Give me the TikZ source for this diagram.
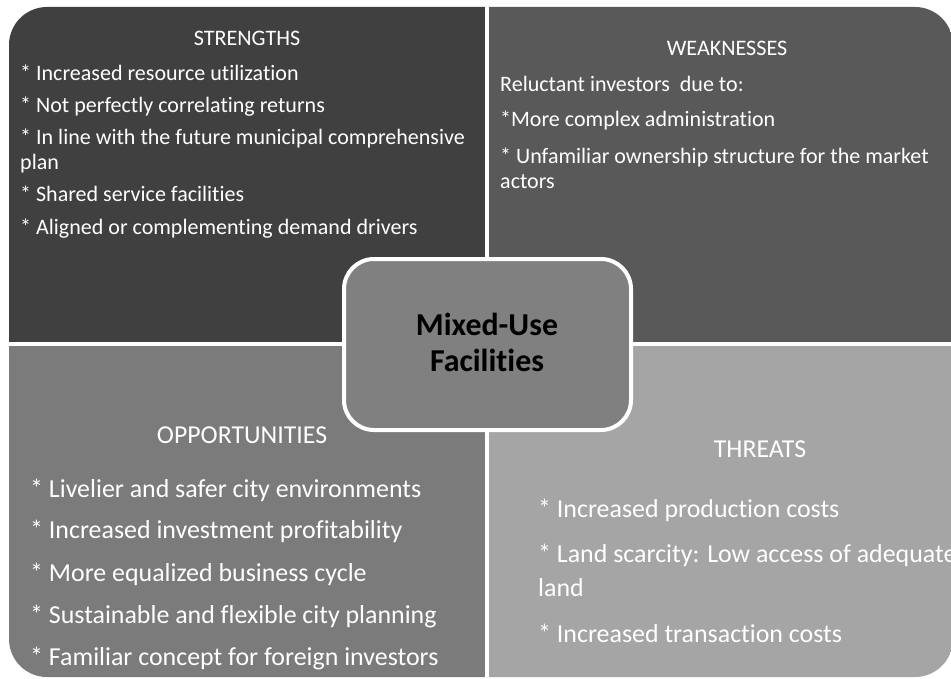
\documentclass[tikz,border=0pt]{standalone}
\usepackage{fontspec}
\setmainfont{Carlito}[Ligatures=CommonOff]
\definecolor{qtl}{HTML}{404040}
\definecolor{qtr}{HTML}{595959}
\definecolor{qbl}{HTML}{7B7B7B}
\definecolor{qbr}{HTML}{A5A5A5}
\definecolor{qc}{HTML}{808080}
\begin{document}
\begin{tikzpicture}[x=1bp,y=-1bp,
  topitem/.style={anchor=mid west,inner sep=0pt,text=white,font=\fontsize{22.1}{26}\selectfont},
  toptitle/.style={anchor=mid,inner sep=0pt,text=white,font=\fontsize{22.2}{26}\selectfont},
  botitem/.style={anchor=mid west,inner sep=0pt,text=white,font=\fontsize{26}{30}\selectfont},
  bottitle/.style={anchor=mid,inner sep=0pt,text=white,font=\fontsize{25.9}{30}\selectfont},
  centertext/.style={anchor=mid,inner sep=0pt,text=black,font=\bfseries\fontsize{32}{36}\selectfont}]
\useasboundingbox (0,0) rectangle (951,679);
\fill[white] (0,0) rectangle (951,679);
\begin{scope}
  \clip[rounded corners=38bp] (9,7) rectangle (953,677);
  \fill[qtl] (0,0) rectangle (485,342);
  \fill[qtr] (489,0) rectangle (960,342);
  \fill[qbl] (0,346) rectangle (485,690);
  \fill[qbr] (489,346) rectangle (960,690);
\end{scope}
% strengths
\node[toptitle] (st) at (247,43) {STRENGTHS};
\node[topitem] (s1) at (20,78) {* Increased resource utilization};
\node[topitem] (s2) at (20,110) {* Not perfectly correlating returns};
\node[topitem] (s3) at (20,142) {* In line with the future municipal comprehensive};
\node[topitem] (s3b) at (20,167) {plan};
\node[topitem] (s4) at (20,199) {* Shared service facilities};
\node[topitem] (s5) at (20,232) {* Aligned or complementing demand drivers};
% weaknesses
\node[toptitle] (wt) at (727,53) {WEAKNESSES};
\node[topitem] (w0) at (500,89) {Reluctant investors\ \ due to:};
\node[topitem] (w1) at (500,124) {*More complex administration};
\node[topitem] (w2) at (500,161) {* Unfamiliar ownership structure for the market};
\node[topitem] (w2b) at (500,186) {actors};
% opportunities
\node[bottitle] (ot) at (242,441) {OPPORTUNITIES};
\node[botitem] (o1) at (30,495) {* Livelier and safer city environments};
\node[botitem] (o2) at (30,536) {* Increased investment profitability};
\node[botitem] (o3) at (30,579) {* More equalized business cycle};
\node[botitem] (o4) at (30,621) {* Sustainable and flexible city planning};
\node[botitem] (o5) at (30,663) {* Familiar concept for foreign investors};
% threats
\node[bottitle] (tt) at (760,455) {THREATS};
\node[botitem] (t1) at (538,515) {* Increased production costs};
\node[botitem] (t2) at (538,560) {* Land scarcity: Low access of adequate};
\node[botitem] (t2b) at (538,594) {land};
\node[botitem] (t3) at (538,640) {* Increased transaction costs};
% center
\draw[white,line width=4bp,fill=qc,rounded corners=30bp] (344,259) rectangle (631,430);
\node[centertext] (c1) at (487,333) {Mixed-Use};
\node[centertext] (c2) at (487,369) {Facilities};
\end{tikzpicture}
\end{document}
